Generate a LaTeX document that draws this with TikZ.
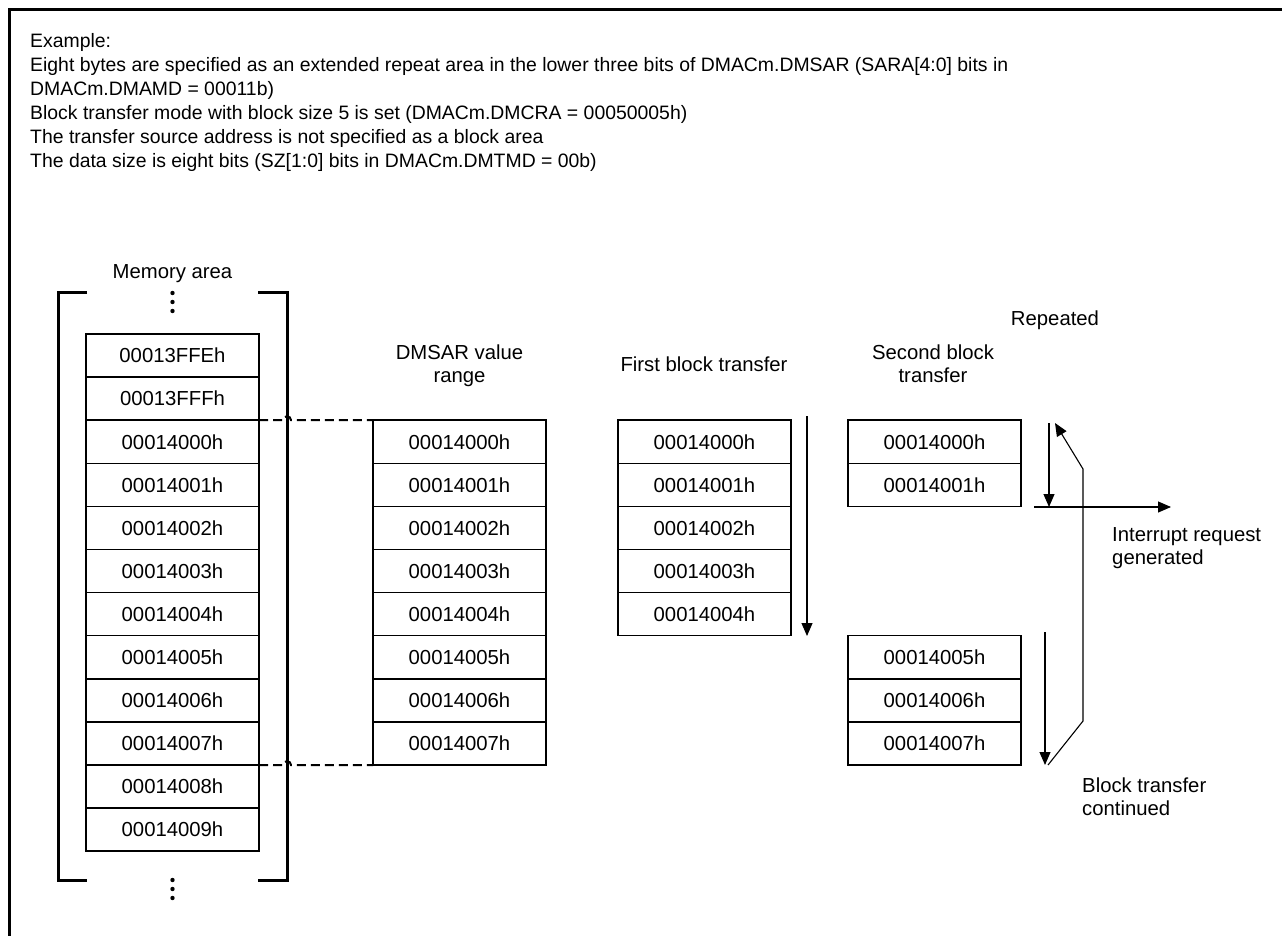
\documentclass[tikz,border=0pt]{standalone}
\usepackage{fontspec}
\setmainfont{Liberation Sans}
\usetikzlibrary{arrows.meta,positioning}

\begin{document}
\begin{tikzpicture}[
  x=1pt, y=-1pt,
  font=\fontsize{20.3}{23}\selectfont,
  cell/.style={draw, line width=1.5pt, minimum width=173pt, minimum height=43.1pt, inner sep=0pt, outer sep=0pt},
  head/.style={align=center},
  arrow/.style={-{Triangle[length=13pt,width=11pt]}, line width=1.1pt},
  link/.style={line width=2pt, dash pattern=on 9pt off 5pt},
  bracket/.style={line width=3pt},
]
  \useasboundingbox (0,0) rectangle (1282,936);
  \draw[line width=3pt] (9,936) |- (1282,10);

  \node[anchor=north west, align=left, inner sep=0pt, font=\fontsize{19.4}{24}\selectfont] (intro) at (30,33)
    {Example:\\
     Eight bytes are specified as an extended repeat area in the lower three bits of DMACm.DMSAR (SARA[4:0] bits in\\
     DMACm.DMAMD = 00011b)\\
     Block transfer mode with block size 5 is set (DMACm.DMCRA = 00050005h)\\
     The transfer source address is not specified as a block area\\
     The data size is eight bits (SZ[1:0] bits in DMACm.DMTMD = 00b)};

  % memory area
  \node[head] (memlabel) at (172.5,274) {Memory area};
  \node[cell] (m0) at (172.5,355.55) {00013FFEh};
  \node[cell, below=0pt of m0] (m1) {00013FFFh};
  \node[cell, below=0pt of m1] (m2) {00014000h};
  \node[cell, below=0pt of m2] (m3) {00014001h};
  \node[cell, below=0pt of m3] (m4) {00014002h};
  \node[cell, below=0pt of m4] (m5) {00014003h};
  \node[cell, below=0pt of m5] (m6) {00014004h};
  \node[cell, below=0pt of m6] (m7) {00014005h};
  \node[cell, below=0pt of m7] (m8) {00014006h};
  \node[cell, below=0pt of m8] (m9) {00014007h};
  \node[cell, below=0pt of m9] (m10) {00014008h};
  \node[cell, below=0pt of m10] (m11) {00014009h};
  \draw[bracket] (87,292) -| (58,880) -- (87,880);
  \draw[bracket] (258,292) -| (287,880) -- (258,880);
  \fill (172.5,293) circle (2.2pt) (172.5,302) circle (2.2pt) (172.5,311) circle (2.2pt);
  \fill (172.5,880) circle (2.2pt) (172.5,889) circle (2.2pt) (172.5,898) circle (2.2pt);

  % DMSAR value range
  \node[head] (dmsarlabel) at (459.5,366) {DMSAR value\\range};
  \node[cell, right=114pt of m2] (d0) {00014000h};
  \node[cell, below=0pt of d0] (d1) {00014001h};
  \node[cell, below=0pt of d1] (d2) {00014002h};
  \node[cell, below=0pt of d2] (d3) {00014003h};
  \node[cell, below=0pt of d3] (d4) {00014004h};
  \node[cell, below=0pt of d4] (d5) {00014005h};
  \node[cell, below=0pt of d5] (d6) {00014006h};
  \node[cell, below=0pt of d6] (d7) {00014007h};
  \draw[link] (m2.north east) -- (283,420.2) arc[start angle=180, end angle=0, radius=4pt] -- (d0.north west);
  \draw[link] (m9.south east) -- (283,765.1) arc[start angle=180, end angle=0, radius=4pt] -- (d7.south west);

  % first block transfer
  \node[head] (firstlabel) at (704,364) {First block transfer};
  \node[cell, right=72pt of d0] (f0) {00014000h};
  \node[cell, below=0pt of f0] (f1) {00014001h};
  \node[cell, below=0pt of f1] (f2) {00014002h};
  \node[cell, below=0pt of f2] (f3) {00014003h};
  \node[cell, below=0pt of f3] (f4) {00014004h};
  \coordinate (firsttop) at (807,416);
  \coordinate (firstend) at (807,636);
  \draw[arrow] (firsttop) -- (firstend);

  % second block transfer
  \node[head] (secondlabel) at (933,364) {Second block\\transfer};
  \node[cell, right=57pt of f0] (s0) {00014000h};
  \node[cell, below=0pt of s0] (s1) {00014001h};
  \node[cell] (s5) at (d5 -| s0) {00014005h};
  \node[cell, below=0pt of s5] (s6) {00014006h};
  \node[cell, below=0pt of s6] (s7) {00014007h};
  \node (replabel) at (1055,320) {Repeated};
  \node[anchor=north west, align=left, inner sep=0pt] (irqlabel) at (1112,527) {Interrupt request\\generated};
  \node[anchor=north west, align=left, inner sep=0pt] (contlabel) at (1082,778) {Block transfer\\continued};

  \coordinate (sectop) at (1049,423);
  \coordinate (secend) at (1049,507);
  \coordinate (irqstart) at (1034,507);
  \coordinate (irqend) at (1171,507);
  \coordinate (contstart) at (1045,632);
  \coordinate (contend) at (1045,765);
  \coordinate (backlow) at (1083,721);
  \coordinate (backhigh) at (1083,469);
  \coordinate (backend) at (1055,423);
  \draw[arrow] (sectop) -- (secend);
  \draw[arrow] (irqstart) -- (irqend);
  \draw[arrow] (contstart) -- (contend);
  \draw[arrow] (1048,765) -- (backlow) -- (backhigh) -- (backend);
\end{tikzpicture}
\end{document}
